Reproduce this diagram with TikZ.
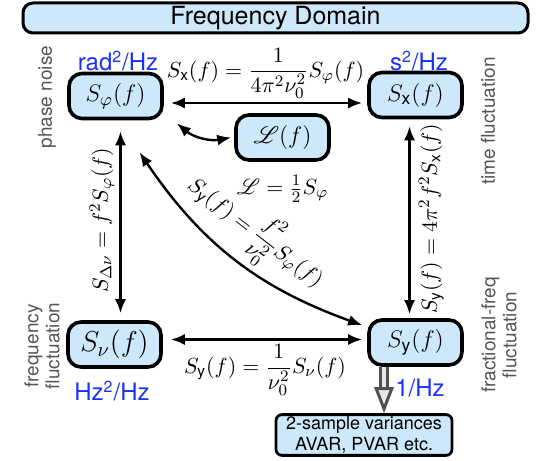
\documentclass[tikz,border=0pt]{standalone}
\usepackage{amsmath,amssymb,mathrsfs}
\usepackage{fontspec}
\setsansfont{TeX Gyre Heros}
\newfontfamily\helv{TeX Gyre Heros}
\usetikzlibrary{arrows.meta,positioning}
\definecolor{boxblue}{RGB}{204,232,250}
\definecolor{unitblue}{RGB}{25,50,250}
\definecolor{sidegray}{RGB}{85,85,85}
\definecolor{hollowgray}{RGB}{80,80,80}

\begin{document}
\begin{tikzpicture}[
    x=0.5pt, y=-0.5pt, line width=1.2pt,
    >={Latex[length=7pt,width=5.5pt]},
    box/.style={draw, line width=1.8pt, fill=boxblue, rounded corners=6.5pt,
        minimum width=46.5pt, minimum height=22.5pt, inner sep=1pt,
        font=\fontsize{12.5}{14}\selectfont},
    titlebox/.style={draw, line width=1.5pt, fill=boxblue, rounded corners=5pt,
        minimum width=252.5pt, minimum height=15pt, inner sep=0pt,
        font=\helv\fontsize{12.5}{14}\selectfont},
    varbox/.style={draw, line width=1.4pt, fill=boxblue, rounded corners=3pt,
        minimum width=88pt, minimum height=19pt, inner sep=1pt, align=center,
        font=\helv\fontsize{9}{10.5}\selectfont},
    unit/.style={text=unitblue, inner sep=0pt, font=\helv\fontsize{12}{14}\selectfont},
    side/.style={text=sidegray, rotate=90, align=center, inner sep=0pt,
        font=\helv\fontsize{9.5}{10.5}\selectfont},
    eq/.style={font=\fontsize{11}{13}\selectfont},
    hollow/.style={draw=hollowgray, line width=1.5pt, double=gray!18, double distance=2pt,
        -{Triangle[length=13pt,width=9.5pt,fill=gray!18]}}]

    \useasboundingbox (0,0) rectangle (539,460);

    % Define nodes
    \node[titlebox] (freq) at (275.5,18) {Frequency Domain};
    \node[box] (Sphi) at (115.5,96) {$S_\varphi(f)$};
    \node[box] (Sx) at (415.5,95) {$S_{\mathsf{x}}(f)$};
    \node[box] (Lf) at (282.5,137.5) {$\mathscr{L}(f)$};
    \node[box, font=\fontsize{14.5}{16}\selectfont] (Snu) at (114.5,344.5) {$S_\nu(f)$};
    \node[box] (Sy) at (415.5,342.5) {$S_{\mathsf{y}}(f)$};
    \node[varbox] (var) at (364,435) {2-sample variances\\AVAR, PVAR etc.};
    \node[eq, below=3pt of Lf] (Lrel) {$\mathscr{L} = \tfrac{1}{2} S_\varphi$};

    % Units and side labels
    \node[unit] (uphi) at (118,61) {rad\textsuperscript{2}/Hz};
    \node[unit] (ux) at (419,61) {s\textsuperscript{2}/Hz};
    \node[unit] (unu) at (112,391) {Hz\textsuperscript{2}/Hz};
    \node[unit] (uy) at (420,388) {1/Hz};
    \node[side] (lphi) at (47,97) {phase noise};
    \node[side] (lx) at (488,121) {time fluctuation};
    \node[side] (lnu) at (42,346) {frequency\\fluctuation};
    \node[side] (ly) at (499,335) {fractional-freq\\fluctuation};

    % Draw conversions
    \draw[<->, shorten <=3.5pt, shorten >=2.5pt] ([yshift=-3.5pt]Sphi.east)
        -- node[above, eq, inner sep=1.5pt] {$S_{\mathsf{x}}(f) = \dfrac{1}{4\pi^2\nu_0^2}S_\varphi(f)$}
        ([yshift=-3.5pt]Sphi.east -| Sx.west);
    \draw[<->, shorten <=4pt, shorten >=2.5pt] ([yshift=2.5pt]Snu.east)
        -- node[below, eq, inner sep=2pt] {$S_{\mathsf{y}}(f) = \dfrac{1}{\nu_0^2}S_\nu(f)$}
        ([yshift=2.5pt]Snu.east -| Sy.west);
    \draw[<->, shorten <=5.5pt, shorten >=3.5pt] ([xshift=2.5pt]Sphi.south)
        -- node[rotate=90, anchor=south, eq, inner sep=2.5pt] {$S_{\Delta\nu} = f^2 S_\varphi(f)$}
        ([xshift=2.5pt]Sphi.south |- Snu.north);
    \draw[<->, shorten <=3.5pt, shorten >=2pt] ([xshift=-3pt]Sx.south)
        -- node[rotate=90, anchor=north, eq, inner sep=4pt] {$S_{\mathsf{y}}(f) = 4\pi^2 f^2 S_{\mathsf{x}}(f)$}
        ([xshift=-3pt]Sx.south |- Sy.north);
    \draw[<->] ([shift={(6.5pt,-1.5pt)}]Sphi.south east) to[bend right=25] ([xshift=-1.5pt]Lf.west);
    \draw[<->] ([shift={(12pt,-16pt)}]Sphi.south) to[bend right=18]
        node[sloped, above, eq, inner sep=2pt] {$S_{\mathsf{y}}(f) = \dfrac{f^2}{\nu_0^2}S_\varphi(f)$}
        ([shift={(-2.5pt,-3.5pt)}]Sy.north west);
    \draw[hollow] ([xshift=-15.75pt]Sy.south) -- ([xshift=-15.75pt]Sy.south |- var.north);
\end{tikzpicture}
\end{document}
